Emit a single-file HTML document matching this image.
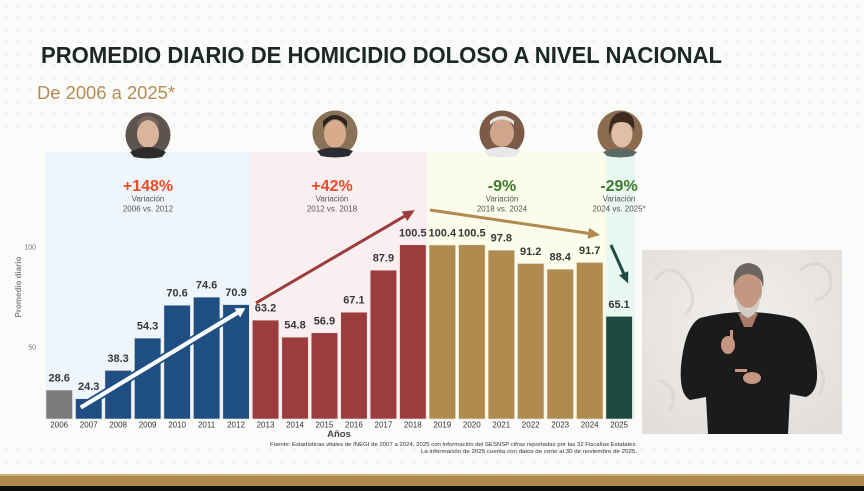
<!DOCTYPE html>
<html><head><meta charset="utf-8">
<style>
html,body{margin:0;padding:0;background:#fbfbfa;}
svg{display:block;}
text{font-family:"Liberation Sans",sans-serif;}
</style></head>
<body>
<svg width="864" height="491" viewBox="0 0 864 491" xmlns="http://www.w3.org/2000/svg">
<defs>
<pattern id="dots" x="0" y="0" width="12" height="12" patternUnits="userSpaceOnUse">
<circle cx="6" cy="6" r="2" fill="#f3f2ef"/>
</pattern>
<radialGradient id="bgI" cx="0.5" cy="0.4" r="0.7">
<stop offset="0" stop-color="#f1efed"/><stop offset="1" stop-color="#e2dedb"/>
</radialGradient>
</defs>
<rect width="864" height="491" fill="#fbfbfa"/>
<rect x="0" y="0" width="864" height="130" fill="url(#dots)" opacity="0.7"/>
<rect x="0" y="440" width="864" height="34" fill="url(#dots)" opacity="0.7"/>

<!-- Title -->
<text x="41" y="63" font-size="23.5" font-weight="bold" fill="#1b2823" textLength="681" lengthAdjust="spacingAndGlyphs">PROMEDIO DIARIO DE HOMICIDIO DOLOSO A NIVEL NACIONAL</text>
<text x="37" y="99" font-size="18" fill="#b28d55" textLength="138" lengthAdjust="spacingAndGlyphs">De 2006 a 2025*</text>

<!-- Panels -->
<rect x="45" y="152" width="205" height="267" fill="#eef6fc"/>
<rect x="250" y="152" width="177" height="267" fill="#f9eff0"/>
<rect x="427" y="152" width="179" height="267" fill="#fbfcea"/>
<rect x="606" y="152" width="29" height="267" fill="#e8f7ef"/>

<!-- Photos -->
<g>
<circle cx="148" cy="135" r="22.5" fill="#5d544f"/>
<ellipse cx="148" cy="134" rx="11" ry="14" fill="#d9b59c"/>
<path d="M137 126 Q148 114 159 126 L159 122 Q148 110 137 122Z" fill="#7a665a"/>
<path d="M130 152 Q148 142 166 152 L162 157 Q148 160 134 157Z" fill="#2e2b2c"/>
</g>
<g>
<circle cx="335" cy="133" r="22.5" fill="#8a7258"/>
<ellipse cx="335" cy="134" rx="11" ry="14" fill="#d7ab8c"/>
<path d="M323 128 Q335 110 347 128 L347 121 Q335 109 323 121Z" fill="#2a2320"/>
<path d="M317 151 Q335 144 353 151 L349 156 Q335 159 321 156Z" fill="#2b2c33"/>
</g>
<g>
<circle cx="502" cy="133" r="22.5" fill="#7b5a48"/>
<ellipse cx="502" cy="133" rx="12" ry="14" fill="#cfa58c"/>
<path d="M490 125 Q502 114 514 125 L514 121 Q502 111 490 121Z" fill="#e6e2de"/>
<path d="M484 151 Q502 143 520 151 L516 156 Q502 159 488 156Z" fill="#e8e8ea"/>
</g>
<g>
<circle cx="620" cy="133" r="22.5" fill="#8b6a4e"/>
<ellipse cx="622" cy="134" rx="10.5" ry="13.5" fill="#e0bfa6"/>
<path d="M609 136 Q608 112 624 112 Q636 114 634 130 Q628 118 613 124Z" fill="#3b2a20"/>
<path d="M603 152 Q620 145 637 152 L633 156 Q620 159 607 156Z" fill="#5b6a66"/>
</g>

<!-- Variation labels -->
<g text-anchor="middle">
<text x="148" y="191" font-size="16" font-weight="bold" fill="#ee4b25">+148%</text>
<text x="148" y="201.5" font-size="8" fill="#555">Variación</text>
<text x="148" y="211.5" font-size="8" fill="#555">2006 vs. 2012</text>
<text x="332" y="191" font-size="16" font-weight="bold" fill="#ee4b25">+42%</text>
<text x="332" y="201.5" font-size="8" fill="#555">Variación</text>
<text x="332" y="211.5" font-size="8" fill="#555">2012 vs. 2018</text>
<text x="502" y="191" font-size="16" font-weight="bold" fill="#3e7a2c">-9%</text>
<text x="502" y="201.5" font-size="8" fill="#555">Variación</text>
<text x="502" y="211.5" font-size="8" fill="#555">2018 vs. 2024</text>
<text x="619" y="191" font-size="16" font-weight="bold" fill="#3e7a2c">-29%</text>
<text x="619" y="201.5" font-size="8" fill="#555">Variación</text>
<text x="619" y="211.5" font-size="8" fill="#555">2024 vs. 2025*</text>
</g>

<!-- Axis -->
<text x="36" y="249.5" font-size="7" fill="#777" text-anchor="end">100</text>
<text x="36" y="349.5" font-size="7" fill="#777" text-anchor="end">50</text>
<text transform="translate(21,287) rotate(-90)" font-size="8" font-weight="bold" fill="#888" text-anchor="middle">Promedio diario</text>

<!-- Bars -->
<g stroke="#ece6da" stroke-width="0.6">
<rect x="46" y="390" width="26.5" height="29" fill="#7b7b7b"/>
<rect x="75.5" y="398.7" width="26.5" height="20.3" fill="#1f4e82"/>
<rect x="104.9" y="370.4" width="26.5" height="48.6" fill="#1f4e82"/>
<rect x="134.4" y="338.1" width="26.5" height="80.9" fill="#1f4e82"/>
<rect x="163.9" y="305.2" width="26.5" height="113.8" fill="#1f4e82"/>
<rect x="193.4" y="297.1" width="26.5" height="121.9" fill="#1f4e82"/>
<rect x="222.8" y="304.6" width="26.5" height="114.4" fill="#1f4e82"/>
<rect x="252.3" y="320.1" width="26.5" height="98.9" fill="#9c3c3f"/>
<rect x="281.8" y="337.1" width="26.5" height="81.9" fill="#9c3c3f"/>
<rect x="311.2" y="332.8" width="26.5" height="86.2" fill="#9c3c3f"/>
<rect x="340.7" y="312.2" width="26.5" height="106.8" fill="#9c3c3f"/>
<rect x="370.2" y="270.2" width="26.5" height="148.8" fill="#9c3c3f"/>
<rect x="399.6" y="244.8" width="26.5" height="174.2" fill="#9c3c3f"/>
<rect x="429.1" y="245" width="26.5" height="174" fill="#b08a4e"/>
<rect x="458.6" y="244.8" width="26.5" height="174.2" fill="#b08a4e"/>
<rect x="488.1" y="250.2" width="26.5" height="168.8" fill="#b08a4e"/>
<rect x="517.5" y="263.5" width="26.5" height="155.5" fill="#b08a4e"/>
<rect x="547" y="269.2" width="26.5" height="149.8" fill="#b08a4e"/>
<rect x="576.5" y="262.5" width="26.5" height="156.5" fill="#b08a4e"/>
<rect x="605.9" y="316.3" width="26.5" height="102.7" fill="#1e4a42"/>
</g>

<!-- Value labels -->
<g font-size="11" font-weight="bold" fill="#383838" text-anchor="middle">
<text x="59.2" y="381.5">28.6</text>
<text x="88.7" y="390.2">24.3</text>
<text x="118.1" y="361.9">38.3</text>
<text x="147.6" y="329.6">54.3</text>
<text x="177.1" y="296.7">70.6</text>
<text x="206.6" y="288.6">74.6</text>
<text x="236" y="296.1">70.9</text>
<text x="265.5" y="311.6">63.2</text>
<text x="295" y="328.6">54.8</text>
<text x="324.4" y="324.3">56.9</text>
<text x="353.9" y="303.7">67.1</text>
<text x="383.4" y="261.7">87.9</text>
<text x="412.8" y="236.3">100.5</text>
<text x="442.3" y="236.5">100.4</text>
<text x="471.8" y="236.3">100.5</text>
<text x="501.3" y="241.7">97.8</text>
<text x="530.7" y="255">91.2</text>
<text x="560.2" y="260.7">88.4</text>
<text x="589.7" y="254">91.7</text>
<text x="619.1" y="307.8">65.1</text>
</g>

<!-- Year labels -->
<g font-size="8" fill="#333" text-anchor="middle">
<text x="59.2" y="427.5">2006</text>
<text x="88.7" y="427.5">2007</text>
<text x="118.1" y="427.5">2008</text>
<text x="147.6" y="427.5">2009</text>
<text x="177.1" y="427.5">2010</text>
<text x="206.6" y="427.5">2011</text>
<text x="236" y="427.5">2012</text>
<text x="265.5" y="427.5">2013</text>
<text x="295" y="427.5">2014</text>
<text x="324.4" y="427.5">2015</text>
<text x="353.9" y="427.5">2016</text>
<text x="383.4" y="427.5">2017</text>
<text x="412.8" y="427.5">2018</text>
<text x="442.3" y="427.5">2019</text>
<text x="471.8" y="427.5">2020</text>
<text x="501.3" y="427.5">2021</text>
<text x="530.7" y="427.5">2022</text>
<text x="560.2" y="427.5">2023</text>
<text x="589.7" y="427.5">2024</text>
<text x="619.1" y="427.5">2025</text>
</g>
<text x="339" y="437" font-size="9.5" font-weight="bold" fill="#444" text-anchor="middle">Años</text>

<!-- Footnote -->
<text x="270" y="446" font-size="5.5" fill="#333" textLength="367" lengthAdjust="spacingAndGlyphs">Fuente: Estadísticas vitales de INEGI de 2007 a 2024, 2025 con información del SESNSP cifras reportadas por las 32 Fiscalías Estatales.</text>
<text x="421" y="453" font-size="5.5" fill="#333" textLength="216" lengthAdjust="spacingAndGlyphs">La información de 2025 cuenta con datos de corte al 30 de noviembre de 2025.</text>

<!-- Arrows -->
<g transform="translate(80,408) rotate(-31.17)">
<polygon points="0,-3 183,-3 183,-7 195,0 183,7 183,3 0,3" fill="#ffffff" stroke="#1f4e82" stroke-width="1.8" stroke-linejoin="miter"/>
</g>
<g transform="translate(256,303) rotate(-30.3)">
<rect x="0" y="-1.5" width="174" height="3" fill="#9c3c3f"/>
<polygon points="184,0 172,-5.5 172,5.5" fill="#9c3c3f"/>
</g>
<g transform="translate(430,210) rotate(8.37)">
<rect x="0" y="-1.5" width="162" height="3" fill="#b08a4e"/>
<polygon points="172,0 160,-5.5 160,5.5" fill="#b08a4e"/>
</g>
<g transform="translate(611,245) rotate(65.9)">
<rect x="0" y="-1.5" width="32" height="3" fill="#1e4a45"/>
<polygon points="42,0 31,-5 31,5" fill="#1e4a45"/>
</g>

<!-- Interpreter -->
<g>
<rect x="642" y="250" width="200" height="184" fill="url(#bgI)"/>
<g fill="none" stroke="#d8d3cf" stroke-width="3" opacity="0.7">
<path d="M655 280 q15 -20 30 0 q15 20 0 35"/>
<path d="M800 270 q20 -15 30 5 q5 20 -15 25"/>
<path d="M660 380 q20 10 10 30"/>
<path d="M810 360 q20 10 10 35"/>
</g>
<!-- body -->
<path d="M700 318 Q745 306 794 318 Q814 328 817 372 Q818 392 806 397 L790 394 L788 434 L708 434 L706 397 L690 400 Q679 394 681 366 Q685 326 700 318Z" fill="#1c1b1c"/>
<path d="M738 313 L758 313 L752 327 L744 327Z" fill="#a97a67"/>
<!-- head -->
<ellipse cx="748" cy="290" rx="14" ry="18" fill="#c49780"/>
<path d="M734 288 Q731 265 748 263 Q766 264 763 288 Q761 275 748 274 Q736 275 734 288Z" fill="#6c6560"/>
<path d="M736 297 Q748 320 760 297 Q760 313 748 318 Q736 313 736 297Z" fill="#d2ccc6"/>
<!-- hands -->
<ellipse cx="728" cy="345" rx="7" ry="9" fill="#c59682"/>
<rect x="730" y="330" width="3" height="10" fill="#c59682"/>
<ellipse cx="752" cy="378" rx="9" ry="6" fill="#c59682"/>
<rect x="735" y="369" width="12" height="3" fill="#c59682"/>
</g>

<!-- Bottom bands -->
<rect x="0" y="474" width="864" height="2" fill="#cfb07a"/>
<rect x="0" y="476" width="864" height="10" fill="#b08a4d"/>
<rect x="0" y="486" width="864" height="5" fill="#0b0b0b"/>
</svg>
</body></html>
